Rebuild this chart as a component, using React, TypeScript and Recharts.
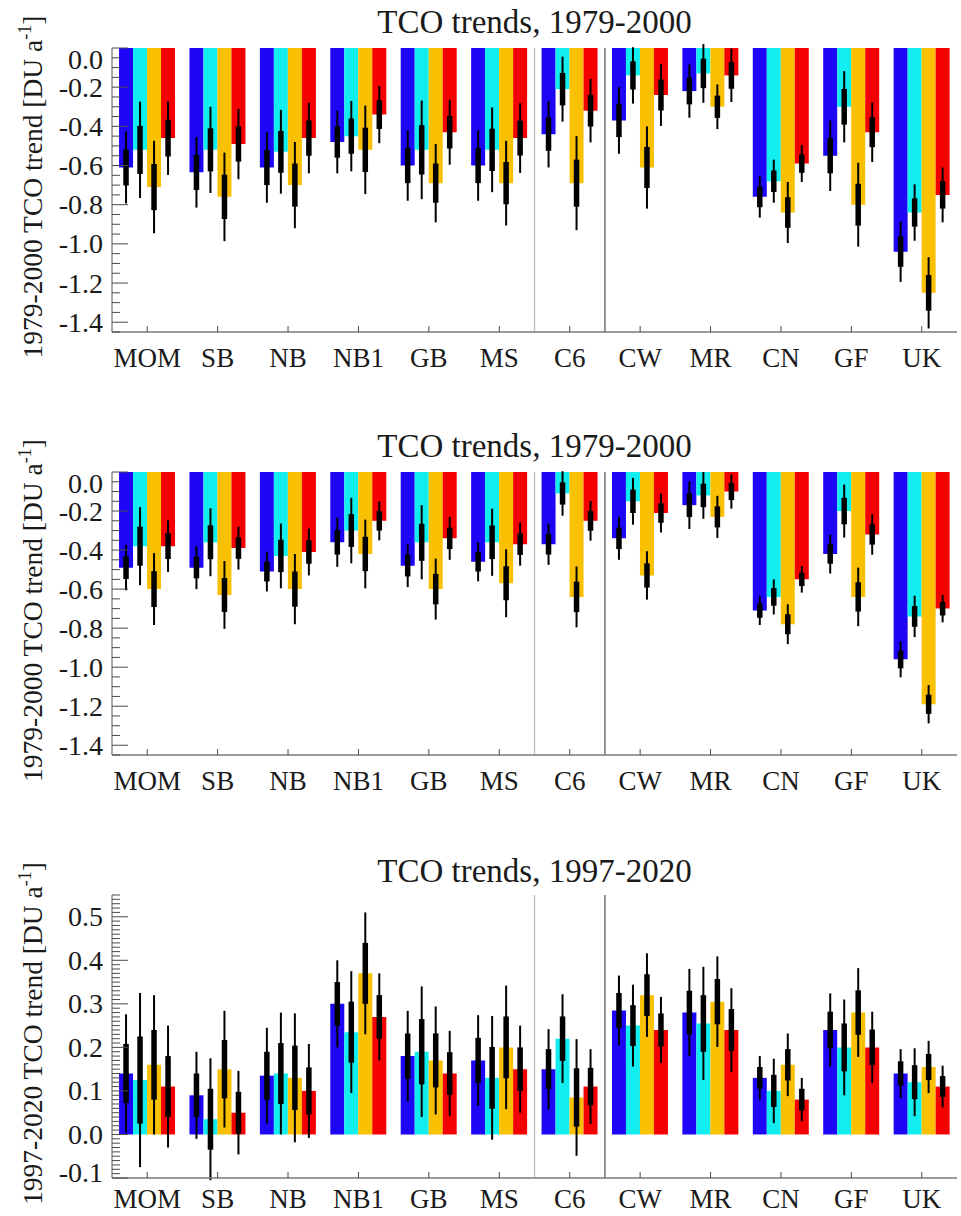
import React from 'react';
import { BarChart, Bar, XAxis, YAxis, ErrorBar, ReferenceLine } from 'recharts';

// ---------- data ----------
const categories = ['MOM', 'SB', 'NB', 'NB1', 'GB', 'MS', 'C6', 'CW', 'MR', 'CN', 'GF', 'UK'];
const seriesKeys = ['b', 'c', 'o', 'r'];
const seriesColors = ['#1c06f5', '#12eef0', '#f9c004', '#f50000'];

// panel 1: TCO trends 1979-2000 (upper)
const p1Blue = [-0.61, -0.635, -0.61, -0.48, -0.6, -0.6, -0.44, -0.37, -0.22, -0.76, -0.55, -1.04];
const p1Cyan = [-0.52, -0.52, -0.53, -0.45, -0.52, -0.52, -0.21, -0.14, -0.13, -0.68, -0.3, -0.84];
const p1Orange = [-0.71, -0.76, -0.7, -0.52, -0.69, -0.69, -0.69, -0.61, -0.3, -0.84, -0.8, -1.25];
const p1Red = [-0.46, -0.49, -0.46, -0.34, -0.43, -0.46, -0.32, -0.24, -0.14, -0.59, -0.43, -0.75];
const p1SigBlue = [0.092, 0.09, 0.09, 0.08, 0.09, 0.09, 0.085, 0.085, 0.068, 0.053, 0.09, 0.077];
const p1SigCyan = [0.123, 0.11, 0.107, 0.09, 0.126, 0.108, 0.083, 0.072, 0.075, 0.055, 0.091, 0.072];
const p1SigOrange = [0.118, 0.113, 0.11, 0.113, 0.1, 0.108, 0.12, 0.105, 0.057, 0.078, 0.107, 0.091];
const p1SigRed = [0.094, 0.09, 0.09, 0.073, 0.083, 0.089, 0.081, 0.079, 0.068, 0.047, 0.076, 0.07];

// panel 2: TCO trends 1979-2000 (middle)
const p2Blue = [-0.49, -0.49, -0.51, -0.36, -0.48, -0.46, -0.37, -0.34, -0.17, -0.71, -0.42, -0.96];
const p2Cyan = [-0.38, -0.36, -0.43, -0.3, -0.36, -0.36, -0.11, -0.15, -0.12, -0.64, -0.2, -0.74];
const p2Orange = [-0.6, -0.63, -0.6, -0.42, -0.6, -0.57, -0.64, -0.53, -0.23, -0.78, -0.64, -1.19];
const p2Red = [-0.38, -0.39, -0.41, -0.25, -0.34, -0.37, -0.25, -0.21, -0.1, -0.55, -0.32, -0.7];
const p2SigBlue = [0.058, 0.055, 0.051, 0.063, 0.055, 0.05, 0.053, 0.055, 0.061, 0.037, 0.05, 0.046];
const p2SigCyan = [0.1, 0.087, 0.083, 0.084, 0.095, 0.086, 0.057, 0.06, 0.06, 0.045, 0.068, 0.053];
const p2SigOrange = [0.092, 0.087, 0.09, 0.088, 0.078, 0.087, 0.078, 0.062, 0.054, 0.051, 0.075, 0.049];
const p2SigRed = [0.066, 0.055, 0.06, 0.05, 0.055, 0.055, 0.051, 0.05, 0.044, 0.034, 0.052, 0.035];

// panel 3: TCO trends 1997-2020
const p3Blue = [0.14, 0.09, 0.135, 0.3, 0.18, 0.17, 0.15, 0.285, 0.28, 0.13, 0.24, 0.14];
const p3Cyan = [0.125, 0.035, 0.14, 0.235, 0.19, 0.13, 0.22, 0.25, 0.255, 0.1, 0.2, 0.12];
const p3Orange = [0.16, 0.15, 0.13, 0.37, 0.17, 0.2, 0.085, 0.32, 0.305, 0.16, 0.28, 0.155];
const p3Red = [0.11, 0.05, 0.1, 0.27, 0.14, 0.15, 0.11, 0.24, 0.24, 0.08, 0.2, 0.11];
const p3SigBlue = [0.068, 0.05, 0.055, 0.05, 0.052, 0.052, 0.046, 0.04, 0.05, 0.025, 0.042, 0.028];
const p3SigCyan = [0.1, 0.07, 0.07, 0.07, 0.075, 0.071, 0.051, 0.047, 0.065, 0.037, 0.055, 0.039];
const p3SigOrange = [0.08, 0.067, 0.074, 0.07, 0.062, 0.071, 0.067, 0.048, 0.052, 0.036, 0.051, 0.03];
const p3SigRed = [0.07, 0.048, 0.054, 0.05, 0.049, 0.05, 0.043, 0.038, 0.048, 0.025, 0.041, 0.024];

// outer whisker = 2 sigma, inner (thick) = 1 sigma
const outerFactor = 2;

// separators between category groups (boundary index on a 0..12 scale)
const separators = [6, 7];
const separatorColors = ['#bdbdbd', '#5a5a5a'];

const titles = ['TCO trends, 1979-2000', 'TCO trends, 1979-2000', 'TCO trends, 1997-2020'];
const yLabels = ['1979-2000 TCO trend [DU a', '1979-2000 TCO trend [DU a', '1997-2020 TCO trend [DU a'];

const domainNeg: [number, number] = [-1.45, 0];
const domainPos: [number, number] = [-0.1, 0.55];

// ---------- styling ----------
const SERIF = '"Liberation Serif", "Times New Roman", "DejaVu Serif", serif';
const AXIS = '#7a7a7a';
const TICK = '#4a4a4a';
const TXT = '#1a1a1a';
const W = 961;
const PLOT_LEFT = 112;
const PLOT_RIGHT = 957;
const LEFT_MARGIN = 9;

function makeTicks(lo: number, hi: number, stepHundredths: number) {
  const out: number[] = [];
  const a = Math.round(lo * 100);
  const b = Math.round(hi * 100);
  for (let v = a; v <= b; v += stepHundredths) out.push(v / 100);
  return out;
}

const panels = [
  {
    top: 0, marginTop: 48, xAxisHeight: 48, titleY: 33, domain: domainNeg, catLabelDy: 35,
    ticks: makeTicks(-1.45, 0, 5), majorHundredths: 20,
    values: [p1Blue, p1Cyan, p1Orange, p1Red], sigma: [p1SigBlue, p1SigCyan, p1SigOrange, p1SigRed],
  },
  {
    top: 420, marginTop: 52, xAxisHeight: 45, titleY: 457, domain: domainNeg, catLabelDy: 35,
    ticks: makeTicks(-1.45, 0, 5), majorHundredths: 20,
    values: [p2Blue, p2Cyan, p2Orange, p2Red], sigma: [p2SigBlue, p2SigCyan, p2SigOrange, p2SigRed],
  },
  {
    top: 836, marginTop: 59, xAxisHeight: 38, titleY: 882, domain: domainPos, catLabelDy: 30,
    ticks: makeTicks(-0.1, 0.55, 1), majorHundredths: 10,
    values: [p3Blue, p3Cyan, p3Orange, p3Red], sigma: [p3SigBlue, p3SigCyan, p3SigOrange, p3SigRed],
  },
];

const CHART_H = 380;

// ---------- ticks ----------
function isMajor(v: number, majorHundredths: number) {
  return Math.round(v * 100) % majorHundredths === 0;
}

function LeftTick(props: any) {
  const { x, y, payload, majorHundredths, domain } = props;
  const v = payload.value;
  const ax = x + LEFT_MARGIN;
  const major = isMajor(v, majorHundredths);
  let shift = 0;
  if (Math.abs(v - domain[1]) < 1e-6 && domain[1] === 0) shift = 11;
  if (Math.abs(v - domain[0]) < 1e-6 && domain[0] === -0.1) shift = -6;
  return (
    <g>
      <line x1={ax} x2={ax + (major ? 16 : 8)} y1={y} y2={y} stroke={TICK} strokeWidth={1} />
      {major ? (
        <text x={x} y={y + shift} dy="0.34em" textAnchor="end" fontSize={28} fontFamily={SERIF} fill={TXT}>
          {v.toFixed(1)}
        </text>
      ) : null}
    </g>
  );
}

function RightTick(props: any) {
  const { x, y, payload, majorHundredths } = props;
  const major = isMajor(payload.value, majorHundredths);
  return <line x1={x} x2={x - (major ? 16 : 8)} y1={y} y2={y} stroke={TICK} strokeWidth={1} />;
}

function BottomTick(props: any) {
  const { x, y, payload, labelDy } = props;
  return (
    <g>
      <line x1={x} x2={x} y1={y} y2={y - 6} stroke={TICK} strokeWidth={1} />
      <text x={x} y={y + labelDy} textAnchor="middle" fontSize={27} fontFamily={SERIF} fill={TXT}>
        {payload.value}
      </text>
    </g>
  );
}

function TopTick(props: any) {
  const { x, y } = props;
  return <line x1={x} x2={x} y1={y} y2={y + 6} stroke={TICK} strokeWidth={1} />;
}

// ---------- panel ----------
function Panel({ cfg }: { cfg: any }) {
  const data = categories.map((cat, i) => {
    const row: any = { cat, pos: i + 0.5 };
    seriesKeys.forEach((k, s) => {
      row[k] = cfg.values[s][i];
      row[k + '1'] = cfg.sigma[s][i];
      row[k + '2'] = outerFactor * cfg.sigma[s][i];
    });
    return row;
  });
  const axisLine = { stroke: AXIS, strokeWidth: 1.3 };
  return (
    <div style={{ position: 'absolute', left: 0, top: cfg.top }}>
      <BarChart
        width={W}
        height={CHART_H}
        data={data}
        margin={{ top: cfg.marginTop, right: W - PLOT_RIGHT, bottom: 0, left: 0 }}
        barCategoryGap="10%"
        barGap={0}
      >
        <XAxis
          dataKey="cat"
          height={cfg.xAxisHeight}
          interval={0}
          tickLine={false}
          tickSize={0}
          tickMargin={0}
          axisLine={axisLine}
          tick={(p: any) => <BottomTick {...p} labelDy={cfg.catLabelDy} />}
        />
        <XAxis
          xAxisId="top"
          dataKey="cat"
          orientation="top"
          height={0}
          interval={0}
          tickLine={false}
          tickSize={0}
          tickMargin={0}
          axisLine={axisLine}
          tick={(p: any) => <TopTick {...p} />}
        />
        <XAxis xAxisId="num" type="number" dataKey="pos" domain={[0, 12]} allowDataOverflow hide />
        <YAxis
          type="number"
          width={PLOT_LEFT}
          domain={cfg.domain}
          allowDataOverflow
          ticks={cfg.ticks}
          interval={0}
          tickLine={false}
          tickSize={0}
          tickMargin={LEFT_MARGIN}
          axisLine={axisLine}
          tick={(p: any) => <LeftTick {...p} majorHundredths={cfg.majorHundredths} domain={cfg.domain} />}
        />
        <YAxis
          yAxisId="r"
          orientation="right"
          type="number"
          width={0}
          domain={cfg.domain}
          allowDataOverflow
          ticks={cfg.ticks}
          interval={0}
          tickLine={false}
          tickSize={0}
          tickMargin={0}
          axisLine={axisLine}
          tick={(p: any) => <RightTick {...p} majorHundredths={cfg.majorHundredths} />}
        />
        {separators.map((s, i) => (
          <ReferenceLine key={'sep' + i} xAxisId="num" x={s} stroke={separatorColors[i]} strokeWidth={1.3} />
        ))}
        {seriesKeys.map((k, s) => (
          <Bar key={k} dataKey={k} fill={seriesColors[s]} isAnimationActive={false}>
            <ErrorBar dataKey={k + '2'} direction="y" width={0} stroke="#000" strokeWidth={2} isAnimationActive={false} />
            <ErrorBar dataKey={k + '1'} direction="y" width={0} stroke="#000" strokeWidth={5.5} isAnimationActive={false} />
          </Bar>
        ))}
      </BarChart>
    </div>
  );
}

export default function App() {
  const cx = (PLOT_LEFT + PLOT_RIGHT) / 2;
  return (
    <div style={{ position: 'absolute', left: 0, top: 0, width: W, height: 1216, background: '#fff', overflow: 'hidden' }}>
      <svg width={W} height={1216} style={{ position: 'absolute', left: 0, top: 0 }}>
        {panels.map((p, i) => {
          const plotTop = p.top + p.marginTop;
          const plotBottom = p.top + CHART_H - p.xAxisHeight;
          const midY = (plotTop + plotBottom) / 2 - 3;
          return (
            <g key={'lab' + i}>
              <text x={cx} y={p.titleY} textAnchor="middle" fontSize={33} fontFamily={SERIF} fill={TXT}>
                {titles[i]}
              </text>
              <text
                x={42}
                y={midY}
                transform={`rotate(-90, 42, ${midY})`}
                textAnchor="middle"
                fontSize={27.5}
                fontFamily={SERIF}
                fill={TXT}
              >
                {yLabels[i]}
                <tspan fontSize={18} dy={-11}>-1</tspan>
                <tspan dy={11}>]</tspan>
              </text>
            </g>
          );
        })}
      </svg>
      {panels.map((p, i) => (
        <Panel key={i} cfg={p} />
      ))}
    </div>
  );
}
